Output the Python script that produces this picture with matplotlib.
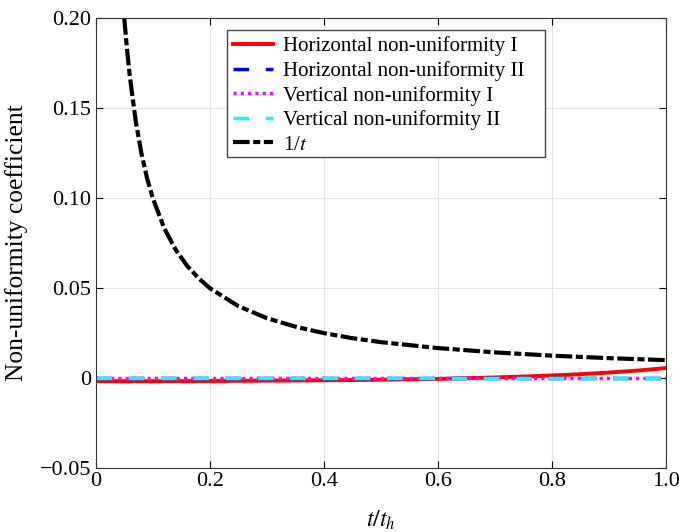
import matplotlib
matplotlib.use("Agg")
from matplotlib import pyplot as plt
from matplotlib.patches import Rectangle
import numpy as np

# values
t_inv = [0.05, 0.055, 0.06, 0.07, 0.08, 0.09, 0.1, 0.12, 0.14, 0.16, 0.18, 0.2,
         0.25, 0.3, 0.35, 0.4, 0.45, 0.5, 0.6, 0.7, 0.8, 0.9, 1.0]
inv_vals = [0.2, 0.182, 0.167, 0.143, 0.125, 0.111, 0.1, 0.0833, 0.0714, 0.0625,
            0.0556, 0.05, 0.04, 0.0333, 0.0286, 0.025, 0.0222, 0.02, 0.0167,
            0.0143, 0.0125, 0.0111, 0.01]

t_flat = [0.0, 0.1, 0.2, 0.3, 0.4, 0.5, 0.6, 0.65, 0.7, 0.75, 0.8, 0.85, 0.9, 0.95, 1.0]
horiz_1 = [-0.0017, -0.0017, -0.0016, -0.0014, -0.0012, -0.0009, -0.0004, 0.0,
           0.0004, 0.0009, 0.0015, 0.0022, 0.0031, 0.0042, 0.0056]
horiz_2 = [0.0003] * len(t_flat)
vert_1 = [-0.0001] * len(t_flat)
vert_2 = [0.0003] * len(t_flat)

plt.rcParams['font.family'] = ['Liberation Serif', 'DejaVu Serif']
plt.rcParams['mathtext.fontset'] = 'stix'

fig = plt.figure(figsize=(6.79, 5.32), dpi=100)
ax = fig.add_axes([0.141, 0.120, 0.840, 0.846])

ax.plot(t_flat, horiz_1, color='red', lw=2.8, label='Horizontal non-uniformity I')
ax.plot(t_flat, horiz_2, color='blue', lw=2.5, ls=(0, (4.5, 4.8)), label='Horizontal non-uniformity II')
ax.plot(t_flat, vert_1, color='magenta', lw=2.5, ls=(0, (0.9, 1.2)), label='Vertical non-uniformity I')
ax.plot(t_flat, vert_2, color='cyan', lw=2.5, ls=(0, (4.5, 4.8)), label='Vertical non-uniformity II')
ax.plot(t_inv, inv_vals, color='black', lw=3, ls=(0, (4, 0.85, 1.7, 0.85)), label='1/$t$')

ax.set_xlim(0, 1.0)
ax.set_ylim(-0.05, 0.2)
ax.set_xticks([0, 0.2, 0.4, 0.6, 0.8, 1.0])
ax.set_xticklabels(['0', '0.2', '0.4', '0.6', '0.8', '1.0'])
ax.set_yticks([-0.05, 0, 0.05, 0.10, 0.15, 0.20])
ax.set_yticklabels(['\u22120.05', '0', '0.05', '0.10', '0.15', '0.20'])
ax.tick_params(direction='in', top=True, right=True, labelsize=16, length=5, pad=3)
ax.grid(True, color='#e3e3e3', lw=0.8)
for s in ax.spines.values():
    s.set_color('#333333')

ax.set_xlabel('$t/t_h$', fontsize=17)
ax.xaxis.set_label_coords(0.5, -0.089)
ax.set_ylabel('Non-uniformity coefficient', fontsize=18.4)
ax.yaxis.set_label_coords(-0.118, 0.5)

# legend frame drawn by hand: the reference box has extra room on the right
ax.add_patch(Rectangle((0.2298, 0.691), 0.558, 0.2823, transform=ax.transAxes,
                       facecolor='white', edgecolor='#444444', lw=1.0, zorder=4))
leg = ax.legend(loc='upper left', bbox_to_anchor=(0.2298, 0.9733), fontsize=15,
                frameon=False, handlelength=1.9, handletextpad=0.5, borderpad=0.3,
                labelspacing=0.23, borderaxespad=0)
leg.set_zorder(5)

fig.savefig('out.png', dpi=100)
